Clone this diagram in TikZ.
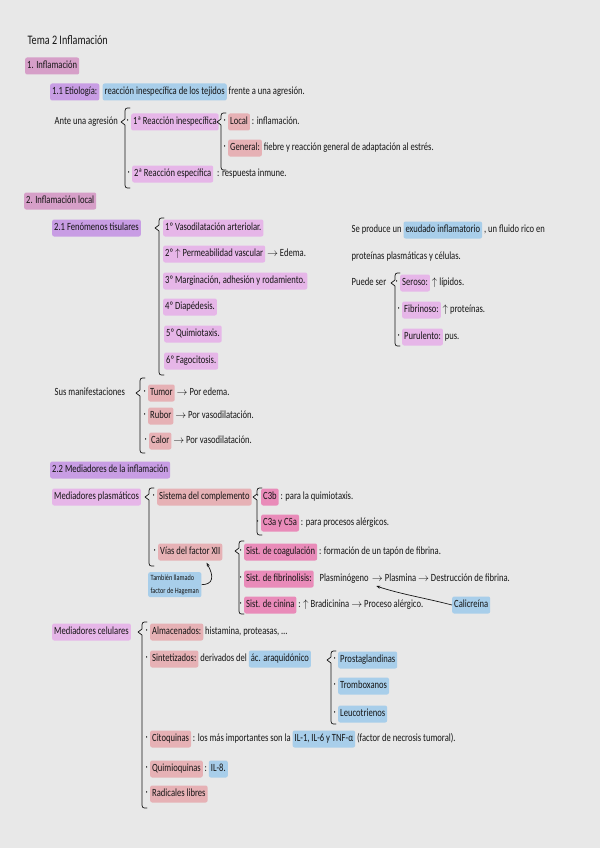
\documentclass[tikz,border=0pt]{standalone}
\usepackage{fontspec}
\setmainfont{Carlito}[FakeStretch=0.78]
\usetikzlibrary{calc,arrows.meta}
\definecolor{bg}{HTML}{E8E8E8}
\definecolor{hmauve}{HTML}{D69FC8}
\definecolor{hpurple}{HTML}{C89DE4}
\definecolor{hblue}{HTML}{A8CEEA}
\definecolor{horchid}{HTML}{E6B6E8}
\definecolor{hrose}{HTML}{E6B1B5}
\definecolor{hpink}{HTML}{E98BB9}
\definecolor{ink}{HTML}{151515}
\newcommand{\hbrace}[4]{%
  \draw[brc] (#1+6,#2) .. controls (#1+1,#2) .. (#1+1,#2+6) -- (#1+1,#3-3) -- (#1-3,#3) -- (#1+1,#3+3) -- (#1+1,#4-6) .. controls (#1+1,#4) .. (#1+6,#4);}
\begin{document}
\begin{tikzpicture}[x=1pt,y=-1pt,
 every node/.style={text=ink, font=\fontsize{11}{13}\selectfont},
 hl/.style={fill=#1, rounded corners=2pt, inner xsep=2pt, inner ysep=0pt, text height=8.5pt, text depth=3pt, minimum height=17pt, anchor=west},
 tx/.style={inner xsep=1.5pt, inner ysep=0pt, text height=8.5pt, text depth=3pt, anchor=west},
 bul/.style={label={[text=ink,inner sep=0pt,label distance=2pt]left:·}},
 brc/.style={draw=ink, line width=0.7pt, line cap=round, line join=round},
 arr/.style={draw=ink, line width=0.7pt, -{Stealth[length=4pt]}}]
\path[fill=bg] (0,0) rectangle (600,848);

% ---- Title & section 1
\node[tx, font=\fontsize{13}{15}\selectfont] (title) at (26,42) {Tema 2 Inflamación};
\node[hl=hmauve] (h1) at (25,66) {1. Inflamación};
\node[hl=hpurple] (etio) at (50,92) {1.1 Etiología:};
\node[hl=hblue] (reac) at ($(etio.east)+(3,0)$) {reacción inespecífica de los tejidos};
\node[tx] (reac2) at (reac.east) {frente a una agresión.};
\node[tx] (ante) at (53,122) {Ante una agresión};
\hbrace{124}{108}{122}{188}
\node[hl=horchid,bul] (r1) at (131,122) {1ª Reacción inespecífica};
\hbrace{220}{113}{122}{170}
\node[hl=hrose,bul] (local) at (228,122) {Local};
\node[tx] (localt) at (local.east) {: inflamación.};
\node[hl=hrose,bul] (gen) at (228,148) {General:};
\node[tx] (gent) at (gen.east) {fiebre y reacción general de adaptación al estrés.};
\node[hl=horchid,bul] (r2) at (132,174) {2ª Reacción específica};
\node[tx] (r2t) at ($(r2.east)+(2,0)$) {: respuesta inmune.};

% ---- Section 2
\node[hl=hmauve] (h2) at (24,201) {2. Inflamación local};
\node[hl=hpurple] (fen) at (52,228) {2.1 Fenómenos tisulares};
\hbrace{158}{218}{228}{375}
\node[hl=horchid] (f1) at (163,228) {1º Vasodilatación arteriolar.};
\node[hl=horchid] (f2) at (163,254) {2º $\uparrow$ Permeabilidad vascular};
\node[tx] (f2t) at (f2.east) {$\rightarrow$ Edema.};
\node[hl=horchid] (f3) at (163,281) {3º Marginación, adhesión y rodamiento.};
\node[hl=horchid] (f4) at (163,307) {4º Diapédesis.};
\node[hl=horchid] (f5) at (164,334) {5º Quimiotaxis.};
\node[hl=horchid] (f6) at (164,361) {6º Fagocitosis.};

\node[tx] (ex1) at (350,230) {Se produce un};
\node[hl=hblue] (exu) at (ex1.east) {exudado inflamatorio};
\node[tx] (ex2) at (exu.east) {, un fluido rico en};
\node[tx] (ex3) at (350,257) {proteínas plasmáticas y células.};
\node[tx] (puede) at (350,283) {Puede ser};
\hbrace{394}{273}{283}{346}
\node[hl=horchid,bul] (ser) at (400,283) {Seroso:};
\node[tx] (sert) at (ser.east) {$\uparrow$ lípidos.};
\node[hl=horchid,bul] (fib) at (402,310) {Fibrinoso:};
\node[tx] (fibt) at (fib.east) {$\uparrow$ proteínas.};
\node[hl=horchid,bul] (pur) at (402,337) {Purulento:};
\node[tx] (purt) at (pur.east) {pus.};

\node[tx] (sus) at (53,393) {Sus manifestaciones};
\hbrace{139}{378}{393}{453}
\node[hl=hrose,bul] (tum) at (148,393) {Tumor};
\node[tx] (tumt) at (tum.east) {$\rightarrow$ Por edema.};
\node[hl=hrose,bul] (rub) at (148,416) {Rubor};
\node[tx] (rubt) at (rub.east) {$\rightarrow$ Por vasodilatación.};
\node[hl=hrose,bul] (cal0) at (149,441) {Calor};
\node[tx] (calt) at (cal0.east) {$\rightarrow$ Por vasodilatación.};

% ---- 2.2
\node[hl=hpurple] (h22) at (50,470) {2.2 Mediadores de la inflamación};
\node[hl=horchid] (mp) at (52,497) {Mediadores plasmáticos};
\hbrace{148}{488}{497}{566}
\node[hl=hrose,bul] (sc) at (157,497) {Sistema del complemento};
\hbrace{256}{488}{497}{535}
\node[hl=hpink,bul] (c3b) at (261,497) {C3b};
\node[tx] (c3bt) at (c3b.east) {: para la quimiotaxis.};
\node[hl=hpink,bul] (c3a) at (261,523) {C3a y C5a};
\node[tx] (c3at) at (c3a.east) {: para procesos alérgicos.};
\node[hl=hrose,bul] (vias) at (158,552) {Vías del factor XII};
\hbrace{238}{541}{551}{614}
\node[hl=hpink,bul] (coag) at (244,552) {Sist. de coagulación};
\node[tx] (coagt) at (coag.east) {: formación de un tapón de fibrina.};
\node[hl=hpink,bul] (fibr) at (244,579) {Sist. de fibrinolisis:};
\node[tx] (plg) at ($(fibr.east)+(4,0)$) {Plasminógeno};
\node[tx] (pl2) at (plg.east) {$\rightarrow$ Plasmina $\rightarrow$ Destrucción de fibrina.};
\node[hl=hpink,bul] (cin) at (244,605) {Sist. de cinina};
\node[tx] (cint) at (cin.east) {: $\uparrow$ Bradicinina $\rightarrow$ Proceso alérgico.};
\node[hl=hblue] (calic) at (452,605) {Calicreína};
\draw[arr] (calic.west) .. controls (425,598) and (400,594) .. ($(pl2.west)+(6,7)$);
\node[fill=hblue, rounded corners=2pt, inner sep=2.5pt, align=left, anchor=north west, font=\fontsize{8}{13}\selectfont] (hag) at (148,572) {También llamado\\factor de Hageman};
\draw[arr] (hag.east) .. controls ($(hag.east)+(12,0)$) and (214,576) .. ($(vias.south east)+(-16,2)$);

\node[hl=horchid] (mc) at (52,632) {Mediadores celulares};
\hbrace{141}{622}{632}{808}
\node[hl=hrose,bul] (alm) at (150,632) {Almacenados:};
\node[tx] (almt) at (alm.east) {histamina, proteasas, \dots};
\node[hl=hrose,bul] (sin) at (150,659) {Sintetizados:};
\node[tx] (sint) at (sin.east) {derivados del};
\node[hl=hblue] (ac) at (sint.east) {ác. araquidónico};
\hbrace{330}{651}{660}{724}
\node[hl=hblue,bul] (pg) at (338,660) {Prostaglandinas};
\node[hl=hblue,bul] (tbx) at (338,686) {Tromboxanos};
\node[hl=hblue,bul] (lt) at (338,714) {Leucotrienos};
\node[hl=hrose,bul] (cit) at (150,739) {Citoquinas};
\node[tx] (citt) at (cit.east) {: los más importantes son la};
\node[hl=hblue] (il) at (citt.east) {IL-1, IL-6 y TNF-α};
\node[tx] (ilt) at (il.east) {(factor de necrosis tumoral).};
\node[hl=hrose,bul] (qui) at (150,769) {Quimioquinas};
\node[tx] (quit) at (qui.east) {:};
\node[hl=hblue] (il8) at (quit.east) {IL-8.};
\node[hl=hrose,bul] (rad) at (150,794) {Radicales libres};
\end{tikzpicture}
\end{document}
